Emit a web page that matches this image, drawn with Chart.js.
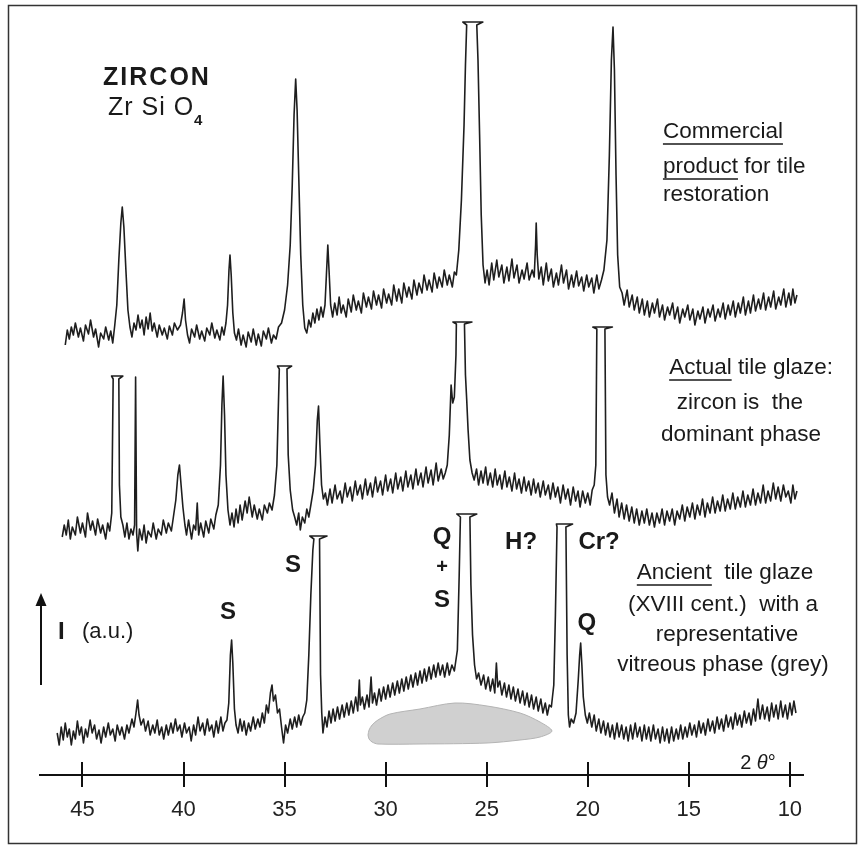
<!DOCTYPE html>
<html>
<head>
<meta charset="utf-8">
<title>Zircon XRD</title>
<script src="https://cdn.jsdelivr.net/npm/chart.js@4.4.1/dist/chart.umd.min.js"></script>
<style>
    html,body{margin:0;padding:0;background:#fff;}
    canvas{display:block;}
</style>
</head>
<body>
<canvas id="xrd" width="861" height="849"></canvas>
<script>
// 2-theta (deg) and intensity (a.u., offset per pattern)
const tickValues=[45,40,35,30,25,20,15,10];

const commercial=[
    [45.85,430],[45.75,445],[45.65,436],[45.55,448],[45.45,440],[45.35,452],[45.2,438],[45.1,447],[44.95,434],[44.85,450],
    [44.7,441],[44.6,455],[44.45,438],[44.35,446],[44.2,428],[44.1,442],[43.95,436],[43.85,448],[43.7,435],[43.6,444],
    [43.5,432],[43.4,450],[43.3,470],[43.2,515],[43.1,552],[43.03,568],[42.95,548],[42.85,505],[42.75,465],[42.65,448],
    [42.55,438],[42.45,452],[42.35,445],[42.25,460],[42.15,447],[42.05,455],[41.95,440],[41.85,458],[41.75,446],[41.65,462],
    [41.55,444],[41.45,452],[41.3,438],[41.2,450],[41.05,440],[40.95,447],[40.8,436],[40.7,449],[40.55,440],[40.45,452],
    [40.3,445],[40.15,450],[40.05,462],[39.97,476],[39.9,455],[39.8,440],[39.7,432],[39.6,446],[39.45,438],[39.35,450],
    [39.2,436],[39.1,444],[38.95,434],[38.85,447],[38.7,440],[38.6,452],[38.45,437],[38.35,445],[38.2,435],[38.1,448],
    [38.0,440],[37.9,452],[37.82,470],[37.75,505],[37.7,520],[37.64,500],[37.56,462],[37.48,442],[37.38,435],[37.28,446],
    [37.15,430],[37.05,440],[36.9,428],[36.8,443],[36.65,433],[36.55,446],[36.4,430],[36.3,441],[36.15,429],[36.05,444],
    [35.9,436],[35.8,447],[35.65,432],[35.55,440],[35.42,436],[35.3,448],[35.15,452],[35.0,465],[34.85,490],[34.72,530],
    [34.62,590],[34.53,660],[34.45,696],[34.38,665],[34.3,600],[34.2,520],[34.1,470],[34.0,447],[33.9,442],[33.8,455],
    [33.7,448],[33.6,462],[33.5,452],[33.4,466],[33.3,455],[33.2,468],[33.1,458],[33.0,470],[32.93,500],[32.86,530],
    [32.8,505],[32.72,470],[32.62,458],[32.52,472],[32.4,460],[32.3,478],[32.2,462],[32.1,470],[31.95,458],[31.85,476],
    [31.7,463],[31.6,480],[31.45,465],[31.35,474],[31.2,462],[31.1,482],[30.95,468],[30.85,478],[30.7,466],[30.6,484],
    [30.45,470],[30.35,480],[30.2,467],[30.1,486],[29.95,472],[29.85,481],[29.7,470],[29.6,490],[29.45,474],[29.35,486],
    [29.2,472],[29.1,492],[28.95,478],[28.85,488],[28.7,476],[28.6,495],[28.45,480],[28.35,492],[28.2,482],[28.1,500],
    [27.95,485],[27.85,495],[27.7,483],[27.6,502],[27.45,487],[27.35,498],[27.2,488],[27.1,505],[26.95,490],[26.85,500],
    [26.7,488],[26.6,503],[26.5,500],[26.38,525],[26.25,575],[26.12,650],[26.05,710],[25.99,750],[26.18,753],[25.19,753],
    [25.49,750],[25.43,715],[25.35,640],[25.27,560],[25.18,510],[25.08,492],[24.98,505],[24.88,490],[24.75,512],[24.65,495],
    [24.5,515],[24.4,498],[24.25,510],[24.15,492],[24.0,508],[23.9,494],[23.75,516],[23.65,497],[23.5,510],[23.4,492],
    [23.25,505],[23.15,496],[23.0,512],[22.9,495],[22.75,505],[22.65,498],[22.58,530],[22.55,552],[22.5,520],[22.42,496],
    [22.3,508],[22.2,490],[22.05,512],[21.95,494],[21.8,506],[21.7,488],[21.55,502],[21.45,490],[21.3,510],[21.2,492],
    [21.05,505],[20.95,486],[20.8,500],[20.7,488],[20.55,504],[20.45,489],[20.3,498],[20.2,484],[20.05,500],[19.95,488],
    [19.8,497],[19.7,482],[19.55,500],[19.45,486],[19.32,495],[19.2,505],[19.05,535],[18.93,620],[18.83,715],[18.75,748],
    [18.68,705],[18.6,600],[18.52,520],[18.42,488],[18.3,482],[18.2,470],[18.05,485],[17.95,468],[17.8,480],[17.7,465],
    [17.55,478],[17.45,462],[17.3,476],[17.2,460],[17.05,474],[16.95,458],[16.8,472],[16.7,462],[16.55,476],[16.45,458],
    [16.3,470],[16.2,455],[16.05,468],[15.95,460],[15.8,472],[15.7,456],[15.55,468],[15.45,452],[15.3,466],[15.2,458],
    [15.05,470],[14.95,455],[14.8,466],[14.7,450],[14.55,464],[14.45,456],[14.3,468],[14.2,452],[14.05,466],[13.95,458],
    [13.8,470],[13.7,454],[13.55,466],[13.45,458],[13.3,472],[13.2,456],[13.05,470],[12.95,460],[12.8,474],[12.7,458],
    [12.55,472],[12.45,462],[12.3,478],[12.2,460],[12.05,474],[11.95,462],[11.8,480],[11.7,464],[11.55,476],[11.45,466],
    [11.3,482],[11.2,465],[11.05,478],[10.95,468],[10.8,484],[10.7,466],[10.55,478],[10.45,470],[10.3,486],[10.2,468],
    [10.05,482],[9.95,470],[9.85,486],[9.75,472],[9.65,480]
];

const actualGlaze=[
    [46.0,238],[45.9,250],[45.8,240],[45.7,255],[45.6,236],[45.5,248],[45.35,240],[45.25,258],[45.1,242],[45.0,252],
    [44.85,238],[44.75,262],[44.6,245],[44.5,254],[44.35,240],[44.25,256],[44.1,242],[44.0,250],[43.85,236],[43.75,252],
    [43.65,244],[43.55,262],[43.48,396],[43.56,399],[43.0,399],[43.2,396],[43.17,290],[43.1,258],[43.0,250],[42.9,238],
    [42.8,252],[42.7,236],[42.6,246],[42.5,240],[42.42,250],[42.37,398],[42.32,242],[42.26,224],[42.18,246],[42.05,235],
    [41.95,250],[41.85,232],[41.75,244],[41.6,238],[41.5,252],[41.35,236],[41.25,246],[41.1,240],[41.0,255],[40.85,242],
    [40.75,252],[40.6,244],[40.5,258],[40.38,275],[40.28,300],[40.2,310],[40.12,290],[40.03,268],[39.93,250],[39.85,240],
    [39.75,255],[39.6,236],[39.5,250],[39.4,245],[39.32,272],[39.25,240],[39.15,252],[39.0,238],[38.9,254],[38.75,242],
    [38.65,256],[38.5,246],[38.4,260],[38.28,270],[38.17,310],[38.1,370],[38.04,399],[37.97,360],[37.9,300],[37.8,265],
    [37.7,250],[37.6,262],[37.5,248],[37.4,266],[37.3,252],[37.2,270],[37.1,255],[36.95,274],[36.85,262],[36.75,278],
    [36.6,258],[36.5,270],[36.35,256],[36.25,266],[36.1,255],[36.0,270],[35.85,262],[35.75,272],[35.62,265],[35.5,280],
    [35.38,310],[35.26,406],[35.35,409],[34.65,409],[34.88,406],[34.82,320],[34.72,285],[34.6,265],[34.5,258],[34.4,250],
    [34.3,262],[34.22,245],[34.12,258],[34.0,252],[33.9,266],[33.8,258],[33.7,270],[33.58,285],[33.47,310],[33.38,355],
    [33.32,369],[33.25,330],[33.17,290],[33.08,276],[32.98,282],[32.88,270],[32.75,286],[32.65,272],[32.5,290],[32.4,276],
    [32.25,284],[32.15,272],[32.0,292],[31.9,278],[31.75,288],[31.65,274],[31.5,294],[31.4,280],[31.25,290],[31.15,276],
    [31.0,296],[30.9,280],[30.75,292],[30.65,278],[30.5,298],[30.4,283],[30.25,294],[30.15,280],[30.0,300],[29.9,284],
    [29.75,296],[29.65,282],[29.5,302],[29.4,286],[29.25,298],[29.15,284],[29.0,304],[28.9,288],[28.75,300],[28.65,286],
    [28.5,306],[28.4,290],[28.25,302],[28.15,288],[28.0,308],[27.9,292],[27.75,305],[27.65,290],[27.5,312],[27.4,294],
    [27.25,306],[27.15,296],[27.05,302],[26.95,310],[26.85,340],[26.76,390],[26.68,372],[26.6,378],[26.52,420],[26.5,451],
    [26.67,453],[25.73,453],[26.1,451],[26.05,400],[25.99,376],[25.92,345],[25.83,315],[25.72,302],[25.62,295],[25.5,306],
    [25.4,290],[25.28,304],[25.18,292],[25.05,308],[24.95,290],[24.82,302],[24.7,288],[24.58,306],[24.48,290],[24.35,300],
    [24.25,286],[24.1,304],[24.0,288],[23.88,298],[23.75,284],[23.62,302],[23.52,286],[23.4,296],[23.28,282],[23.15,298],
    [23.05,284],[22.92,294],[22.8,280],[22.68,296],[22.58,282],[22.45,292],[22.35,278],[22.2,294],[22.1,280],[21.95,290],
    [21.85,276],[21.72,292],[21.6,278],[21.48,288],[21.35,272],[21.22,290],[21.1,276],[20.98,286],[20.85,270],[20.72,288],
    [20.6,274],[20.48,284],[20.38,268],[20.25,284],[20.12,272],[20.0,282],[19.88,270],[19.78,285],[19.68,290],[19.6,310],
    [19.55,446],[19.75,448],[18.78,448],[19.15,446],[19.1,300],[19.02,278],[18.92,270],[18.8,282],[18.68,262],[18.55,276],
    [18.45,258],[18.32,272],[18.2,256],[18.08,270],[17.95,254],[17.82,268],[17.7,252],[17.58,266],[17.45,250],[17.32,264],
    [17.2,252],[17.08,266],[16.95,250],[16.82,262],[16.7,248],[16.58,262],[16.45,252],[16.32,266],[16.2,250],[16.08,264],
    [15.95,254],[15.82,266],[15.7,250],[15.58,264],[15.45,256],[15.32,270],[15.2,254],[15.08,268],[14.95,258],[14.82,272],
    [14.7,256],[14.58,270],[14.45,260],[14.32,276],[14.2,258],[14.08,272],[13.95,262],[13.82,278],[13.7,262],[13.58,274],
    [13.45,264],[13.32,280],[13.2,264],[13.08,276],[12.95,266],[12.82,282],[12.7,266],[12.58,278],[12.45,268],[12.32,284],
    [12.2,268],[12.08,280],[11.95,270],[11.82,286],[11.7,270],[11.58,282],[11.45,272],[11.32,290],[11.2,272],[11.08,284],
    [10.95,274],[10.82,292],[10.7,276],[10.58,288],[10.45,274],[10.32,290],[10.2,278],[10.08,284],[9.95,272],[9.85,290],
    [9.75,276],[9.65,284]
];

const ancientGlaze=[
    [46.25,42],[46.15,30],[46.05,48],[45.95,35],[45.85,52],[45.75,38],[45.65,46],[45.55,30],[45.45,44],[45.35,36],
    [45.25,54],[45.15,40],[45.05,48],[44.95,32],[44.85,46],[44.75,38],[44.62,55],[44.52,42],[44.4,50],[44.3,36],
    [44.18,45],[44.08,32],[43.95,48],[43.85,38],[43.72,52],[43.62,40],[43.5,46],[43.38,34],[43.28,50],[43.15,40],
    [43.05,48],[42.92,36],[42.8,50],[42.7,42],[42.55,56],[42.45,48],[42.35,62],[42.27,75],[42.2,60],[42.1,50],
    [41.98,56],[41.88,44],[41.75,54],[41.65,40],[41.52,50],[41.42,42],[41.3,55],[41.2,40],[41.08,48],[40.98,36],
    [40.85,50],[40.75,40],[40.62,52],[40.52,42],[40.4,56],[40.3,44],[40.18,50],[40.08,38],[39.95,52],[39.85,42],
    [39.72,48],[39.62,34],[39.5,50],[39.4,40],[39.28,58],[39.18,44],[39.05,52],[38.95,40],[38.82,56],[38.72,44],
    [38.6,50],[38.5,38],[38.38,54],[38.28,42],[38.15,58],[38.05,44],[37.95,52],[37.85,55],[37.76,72],[37.68,120],
    [37.62,135],[37.56,112],[37.48,66],[37.4,50],[37.3,42],[37.2,56],[37.1,44],[37.0,54],[36.9,40],[36.78,52],
    [36.68,44],[36.55,58],[36.45,46],[36.32,56],[36.22,48],[36.1,62],[36.0,52],[35.9,70],[35.8,62],[35.7,82],
    [35.62,90],[35.55,74],[35.45,80],[35.35,62],[35.25,66],[35.15,48],[35.05,32],[34.95,50],[34.85,42],[34.72,56],
    [34.62,46],[34.5,58],[34.4,48],[34.3,60],[34.2,50],[34.1,58],[34.0,62],[33.9,75],[33.8,120],[33.7,180],
    [33.6,225],[33.55,236],[33.75,239],[32.9,239],[33.27,236],[33.22,100],[33.16,62],[33.1,42],[33.0,58],[32.9,48],
    [32.8,64],[32.7,52],[32.6,66],[32.5,54],[32.38,68],[32.28,56],[32.15,70],[32.05,58],[31.92,72],[31.82,60],
    [31.7,74],[31.6,62],[31.48,78],[31.38,64],[31.3,95],[31.25,70],[31.15,78],[31.05,66],[30.92,80],[30.82,68],
    [30.72,98],[30.65,72],[30.55,82],[30.45,70],[30.32,86],[30.22,74],[30.1,88],[30.0,76],[29.88,90],[29.78,78],
    [29.65,92],[29.55,80],[29.42,94],[29.32,82],[29.2,96],[29.1,84],[28.98,98],[28.88,86],[28.75,100],[28.65,88],
    [28.52,102],[28.42,90],[28.3,104],[28.2,92],[28.08,106],[27.98,94],[27.85,108],[27.75,96],[27.62,110],[27.52,98],
    [27.4,112],[27.3,100],[27.18,110],[27.08,98],[26.95,112],[26.85,100],[26.72,110],[26.6,104],[26.45,125],[26.36,200],
    [26.3,258],[26.48,261],[25.49,261],[25.83,258],[25.78,190],[25.7,140],[25.6,110],[25.5,96],[25.4,102],[25.28,90],
    [25.15,100],[25.05,86],[24.92,98],[24.82,84],[24.7,96],[24.6,82],[24.52,112],[24.45,88],[24.35,94],[24.25,80],
    [24.12,92],[24.02,78],[23.9,90],[23.8,76],[23.68,88],[23.58,74],[23.45,86],[23.35,72],[23.22,84],[23.12,70],
    [23.0,82],[22.9,68],[22.78,80],[22.68,66],[22.55,78],[22.45,64],[22.32,76],[22.22,62],[22.1,72],[22.0,60],
    [21.9,70],[21.8,68],[21.68,90],[21.6,160],[21.52,248],[21.55,251],[20.75,251],[21.08,248],[21.02,120],[20.96,60],
    [20.9,48],[20.82,56],[20.7,52],[20.58,62],[20.47,95],[20.4,120],[20.35,132],[20.29,110],[20.22,78],[20.12,60],
    [20.02,52],[19.92,62],[19.8,48],[19.68,60],[19.58,44],[19.45,56],[19.35,42],[19.22,54],[19.12,40],[19.0,52],
    [18.9,38],[18.78,50],[18.68,36],[18.55,52],[18.45,38],[18.32,50],[18.22,36],[18.1,48],[18.0,34],[17.88,50],
    [17.78,36],[17.65,52],[17.55,38],[17.42,48],[17.32,34],[17.2,50],[17.1,36],[16.98,48],[16.88,34],[16.75,50],
    [16.65,36],[16.52,46],[16.42,32],[16.3,48],[16.2,34],[16.08,46],[15.98,32],[15.85,48],[15.75,34],[15.62,46],
    [15.52,36],[15.4,50],[15.3,36],[15.18,48],[15.08,38],[14.95,52],[14.85,40],[14.72,50],[14.62,38],[14.5,54],
    [14.4,42],[14.28,52],[14.18,40],[14.05,56],[13.95,44],[13.82,54],[13.72,42],[13.6,58],[13.5,46],[13.38,56],
    [13.28,44],[13.15,60],[13.05,48],[12.92,58],[12.82,46],[12.7,62],[12.6,50],[12.48,60],[12.38,48],[12.25,64],
    [12.15,52],[12.02,62],[11.92,50],[11.8,66],[11.7,54],[11.58,76],[11.48,56],[11.35,70],[11.25,56],[11.12,68],
    [11.02,54],[10.9,72],[10.8,58],[10.68,70],[10.58,56],[10.45,74],[10.35,58],[10.22,70],[10.12,56],[10.0,72],
    [9.9,60],[9.8,74],[9.7,62]
];

// grey vitreous hump outline under the ancient pattern
const vitreousHump=[
    [30.87,40],[30.82,45],[30.67,50],[30.38,55],[29.78,61],[28.30,66],[26.57,72],[24.98,69],[23.35,62],[22.36,53],
    [21.77,44],[22.36,38],[23.35,35],[24.98,32],[28.30,31],[30.38,31],[30.67,33],[30.82,36],[30.87,40]
];

const FONT='"Liberation Sans", Arial, sans-serif';

// text placed in data coordinates [2theta, intensity]
const notes=[
    {at:[43.98,697],align:'left',spacing:2,parts:[{t:'ZIRCON',b:true,s:25}]},
    {at:[43.74,667],align:'left',spacing:1,parts:[{t:'Zr Si O',s:25},{t:'4',b:true,s:15,dy:13}]},
    {at:[16.28,643],align:'left',parts:[{t:'Commercial',u:true}]},
    {at:[16.28,608],align:'left',parts:[{t:'product',u:true},{t:' for tile'}]},
    {at:[16.28,580],align:'left',parts:[{t:'restoration'}]},
    {at:[11.92,407],align:'center',parts:[{t:'Actual',u:true},{t:' tile glaze:'}]},
    {at:[12.47,372],align:'center',parts:[{t:'zircon is  the'}]},
    {at:[12.42,340],align:'center',parts:[{t:'dominant phase'}]},
    {at:[13.21,202],align:'center',parts:[{t:'Ancient',u:true},{t:'  tile glaze'}]},
    {at:[13.31,170],align:'center',parts:[{t:'(XVIII cent.)  with a'}]},
    {at:[13.11,140],align:'center',parts:[{t:'representative'}]},
    {at:[13.31,110],align:'center',parts:[{t:'vitreous phase (grey)'}]},
    {at:[37.80,163],align:'center',parts:[{t:'S',b:true,s:24}]},
    {at:[34.58,210],align:'center',parts:[{t:'S',b:true,s:24}]},
    {at:[27.21,238],align:'center',parts:[{t:'Q',b:true,s:24}]},
    {at:[27.21,208],align:'center',parts:[{t:'+',b:true,s:20}]},
    {at:[27.21,175],align:'center',parts:[{t:'S',b:true,s:24}]},
    {at:[23.30,233],align:'center',parts:[{t:'H?',b:true,s:24}]},
    {at:[19.44,233],align:'center',parts:[{t:'Cr?',b:true,s:24}]},
    {at:[20.04,152],align:'center',parts:[{t:'Q',b:true,s:24}]},
    {at:[46.21,143],align:'left',parts:[{t:'I',b:true,s:24}]},
    {at:[45.02,143],align:'left',parts:[{t:'(a.u.)',s:22}]},
    {at:[11.58,12],align:'center',parts:[{t:'2 ',s:20},{t:'θ',i:true,s:20},{t:'°',s:20}]}
];
const intensityArrow={deg:47.05,from:90,to:182};

function fontOf(p){
    return (p.i?'italic ':'')+(p.b?'bold ':'')+(p.s||22.5)+'px '+FONT;
}

function drawNote(ctx,note,xs,ys){
    const x=xs.getPixelForValue(note.at[0]);
    const y=ys.getPixelForValue(note.at[1]);
    ctx.letterSpacing=(note.spacing||0)+'px';
    let total=0;
    for(let p of note.parts){
        ctx.font=fontOf(p);
        p.w=ctx.measureText(p.t).width;
        total+=p.w;
    }
    let cx=note.align==='center'?x-total/2:x;
    for(let p of note.parts){
        ctx.font=fontOf(p);
        ctx.fillText(p.t,cx,y+(p.dy||0));
        if(p.u){
            ctx.fillRect(cx,y+(p.s||22.5)*0.5,p.w-(note.spacing||0),1.5);
        }
        cx+=p.w;
    }
    ctx.letterSpacing='0px';
}

const decorations={
    id:'decorations',
    beforeDraw(chart){
        const ctx=chart.ctx;
        ctx.save();
        ctx.fillStyle='#fff';
        ctx.fillRect(0,0,chart.width,chart.height);
        ctx.restore();
    },
    afterDraw(chart){
        const ctx=chart.ctx;
        const xs=chart.scales.x,ys=chart.scales.y;
        const axisY=chart.chartArea.bottom;
        ctx.save();
        // upper half of the tick marks, crossing the axis line
        ctx.strokeStyle='#111';
        ctx.lineWidth=2;
        for(let v of tickValues){
            const px=Math.round(xs.getPixelForValue(v));
            ctx.beginPath();
            ctx.moveTo(px,axisY-13);
            ctx.lineTo(px,axisY);
            ctx.stroke();
        }
        // intensity arrow
        const ax=xs.getPixelForValue(intensityArrow.deg);
        const y0=ys.getPixelForValue(intensityArrow.from);
        const y1=ys.getPixelForValue(intensityArrow.to);
        ctx.beginPath();
        ctx.moveTo(ax,y0);
        ctx.lineTo(ax,y1+10);
        ctx.stroke();
        ctx.fillStyle='#111';
        ctx.beginPath();
        ctx.moveTo(ax,y1);
        ctx.lineTo(ax-5.5,y1+13);
        ctx.lineTo(ax+5.5,y1+13);
        ctx.closePath();
        ctx.fill();
        // text
        ctx.fillStyle='#1a1a1a';
        ctx.textBaseline='middle';
        ctx.textAlign='left';
        for(let n of notes){
            drawNote(ctx,n,xs,ys);
        }
        // outer frame
        ctx.strokeStyle='#333';
        ctx.lineWidth=1.5;
        ctx.strokeRect(8.5,5.5,848,838);
        ctx.restore();
    }
};

function toXY(list){
    return list.map(function(p){return {x:p[0],y:p[1]};});
}

function traceDataset(list){
    return {
        data:toXY(list),
        borderColor:'#1e1e1e',
        borderWidth:1.6,
        borderJoinStyle:'round',
        fill:false,
        order:1
    };
}

const chart=new Chart(document.getElementById('xrd'),{
    type:'line',
    data:{
        datasets:[
            {
                data:toXY(vitreousHump),
                borderColor:'#b4b4b4',
                borderWidth:1,
                backgroundColor:'#d0d0d0',
                fill:'shape',
                tension:0.3,
                order:5
            },
            traceDataset(commercial),
            traceDataset(actualGlaze),
            traceDataset(ancientGlaze)
        ]
    },
    options:{
        responsive:false,
        animation:false,
        events:[],
        layout:{padding:{left:40,right:58,top:5,bottom:0}},
        elements:{point:{radius:0},line:{tension:0}},
        plugins:{legend:{display:false},tooltip:{enabled:false}},
        scales:{
            x:{
                type:'linear',
                reverse:true,
                min:9.35,
                max:47.1,
                afterBuildTicks:function(scale){
                    scale.ticks=tickValues.map(function(v){return {value:v};});
                },
                afterFit:function(scale){
                    scale.height=74;
                },
                ticks:{
                    font:{family:FONT,size:22},
                    color:'#222',
                    padding:10,
                    maxRotation:0,
                    autoSkip:false
                },
                grid:{drawOnChartArea:false,drawTicks:true,tickLength:12,color:'#111',lineWidth:2},
                border:{display:true,color:'#111',width:2}
            },
            y:{display:false,min:0,max:770}
        }
    },
    plugins:[decorations]
});
</script>
</body>
</html>
